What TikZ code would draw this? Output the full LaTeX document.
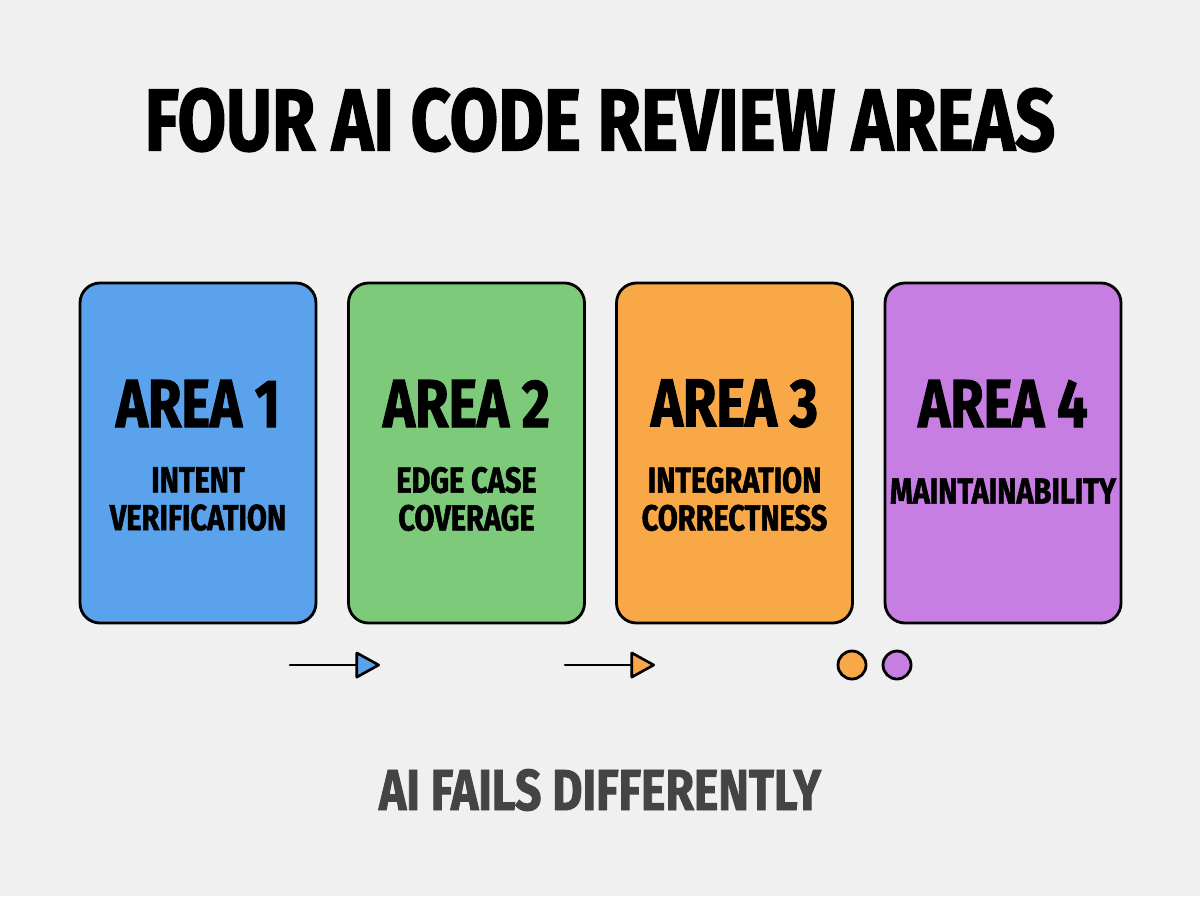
\documentclass[tikz,border=0pt]{standalone}
\usepackage{fontspec}
\setmainfont{Fira Sans}[FakeStretch=0.8, BoldFeatures={FakeBold=1.5}]
\usepackage{tikz}
\usetikzlibrary{arrows.meta, positioning, calc}
\definecolor{abg}{HTML}{F0F0F0}
\definecolor{ablue}{HTML}{5AA2EB}
\definecolor{agreen}{HTML}{7DCB7A}
\definecolor{aorange}{HTML}{F9A847}
\definecolor{apurple}{HTML}{C77EE2}
\definecolor{ainkgray}{HTML}{444444}
\tikzset{
  cardbox/.style={draw=black, line width=1.6pt, rounded corners=0.4cm,
                  minimum width=4.72cm, minimum height=6.8cm, inner sep=0pt},
  areatxt/.style={font=\bfseries\fontsize{38.6}{40}\selectfont, inner sep=0pt},
  desctxt/.style={font=\bfseries\fontsize{20.6}{21.5}\selectfont, align=center, inner sep=0pt},
  flowarr/.style={line width=1.5pt, line cap=round},
  dotc/.style={circle, draw=black, line width=1.6pt, minimum size=0.56cm, inner sep=0pt},
}
\begin{document}
\begin{tikzpicture}
  \fill[abg] (0,0) rectangle (24,-17.92);
  \useasboundingbox (0,0) rectangle (24,-17.92);

  %% ── Title ──
  \node[font=\bfseries\fontsize{50}{52}\selectfont, inner sep=0pt] (title) at (12,-2.4) {FOUR AI CODE REVIEW AREAS};

  %% ── Cards ──
  \node[cardbox, fill=ablue]   (card1) at (3.96,-9.06) {};
  \node[cardbox, fill=agreen]  (card2) at (9.33,-9.06) {};
  \node[cardbox, fill=aorange] (card3) at (14.69,-9.06) {};
  \node[cardbox, fill=apurple] (card4) at (20.06,-9.06) {};

  \node[areatxt] (area1) at (3.96,-8.07) {AREA 1};
  \node[areatxt] (area2) at (9.33,-8.07) {AREA 2};
  \node[areatxt] (area3) at (14.69,-8.07) {AREA 3};
  \node[areatxt] (area4) at (20.06,-8.07) {AREA 4};

  \node[desctxt] (desc1) at (3.96,-9.98) {INTENT\\VERIFICATION};
  \node[desctxt] (desc2) at (9.33,-9.98) {EDGE CASE\\COVERAGE};
  \node[desctxt] (desc3) at (14.69,-9.98) {INTEGRATION\\CORRECTNESS};
  \node[desctxt] (desc4) at (20.06,-9.82) {MAINTAINABILITY};

  %% ── Arrows and dots ──
  \coordinate (a1s) at (5.8,-13.3);
  \coordinate (a1e) at (7.6,-13.3);
  \coordinate (a2s) at (11.3,-13.3);
  \coordinate (a2e) at (13.1,-13.3);
  \draw[flowarr, -{Triangle[length=0.52cm, width=0.56cm, fill=ablue, round]}] (a1s) -- (a1e);
  \draw[flowarr, -{Triangle[length=0.52cm, width=0.56cm, fill=aorange, round]}] (a2s) -- (a2e);

  \node[dotc, fill=aorange] (dot1) at (17.04,-13.3) {};
  \node[dotc, fill=apurple] (dot2) at (17.94,-13.3) {};

  %% ── Footer ──
  \node[font=\bfseries\fontsize{32.9}{35}\selectfont, text=ainkgray, inner sep=0pt] (footer) at (12,-15.8) {AI FAILS DIFFERENTLY};
\end{tikzpicture}
\end{document}
